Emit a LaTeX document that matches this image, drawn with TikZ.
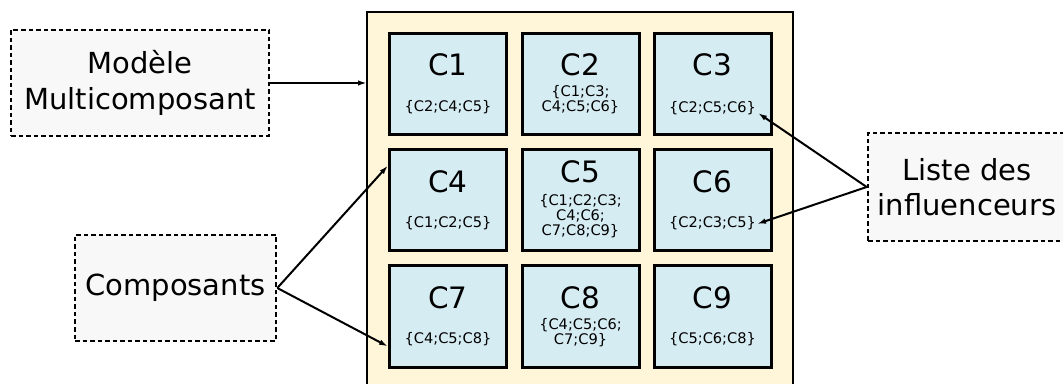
\documentclass[tikz,border=0pt]{standalone}
\usepackage{fontspec}
\setmainfont{DejaVu Sans}
\usetikzlibrary{arrows.meta, positioning, calc}

\definecolor{boardyellow}{HTML}{FFF5D8}
\definecolor{cellblue}{HTML}{D6ECF3}
\definecolor{notegray}{HTML}{F8F8F8}

\tikzset{
    note/.style={draw, line width=2.6pt, dash pattern=on 4.5pt off 3pt, fill=notegray,
        align=center, inner sep=0pt, font=\fontsize{29}{35.5}\selectfont},
    cell/.style={draw, line width=3pt, fill=cellblue, minimum width=117pt, minimum height=101pt},
    cellname/.style={font=\fontsize{29.5}{30}\selectfont},
    cellset/.style={align=center, inner sep=0pt, font=\fontsize{14.6}{15}\selectfont},
    link/.style={line width=2pt, -{Latex[length=9pt,width=5.5pt]}}
}

\begin{document}
\begin{tikzpicture}[x=1pt, y=1pt]
    \clip (0,0) rectangle (1063,383);

    % board of components
    \draw[line width=2pt, fill=boardyellow] (367,-10) rectangle (793,371);

    \foreach \n/\x/\y/\ly/\sy/\set in {
        1/448/299/19/-23/{\{C2;C4;C5\}},
        2/580.5/299/19/-16/{\{C1;C3;\\C4;C5;C6\}},
        3/712.5/299/19/-24/{\{C2;C5;C6\}},
        4/448/182.5/19/-23/{\{C1;C2;C5\}},
        5/580.5/182.5/29/-16/{\{C1;C2;C3;\\C4;C6;\\C7;C8;C9\}},
        6/712.5/182.5/19/-23/{\{C2;C3;C5\}},
        7/448/66.5/19/-23/{\{C4;C5;C8\}},
        8/580.5/66.5/19/-16/{\{C4;C5;C6;\\C7;C9\}},
        9/712.5/66.5/19/-23/{\{C5;C6;C8\}}}{
        \node[cell] (c\n) at (\x,\y) {};
        \node[cellname] (c\n name) at ($(c\n.center)+(0,\ly)$) {C\n};
        \node[cellset] (c\n set) at ($(c\n.center)+(0,\sy)$) {\set};
    }

    % side notes
    \node[note, minimum width=258pt, minimum height=106pt] (model) at (140,300) {Modèle\\Multicomposant};
    \node[note, minimum width=201pt, minimum height=106pt] (comp) at (175.5,95) {Composants};
    \node[note, minimum width=198pt, minimum height=108pt] (infl) at (967,196) {Liste des\\influenceurs};

    \coordinate (boardin) at (367,300);
    \coordinate (c4in) at ($(c4.west)+(0,35)$);
    \coordinate (c7in) at ($(c7.west)+(0,-30)$);
    \coordinate (c3tip) at (758,270);
    \coordinate (c6tip) at (757,159);

    \draw[link] (model.east) -- (boardin);
    \draw[link] (comp.east) -- (c4in);
    \draw[link] (comp.east) -- (c7in);
    \draw[link] (infl.west) -- (c3tip);
    \draw[link] (infl.west) -- (c6tip);
\end{tikzpicture}
\end{document}
